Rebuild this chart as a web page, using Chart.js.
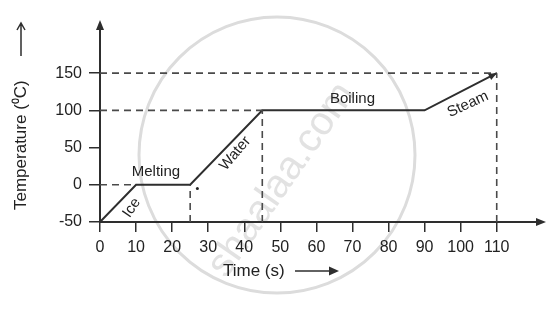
<!DOCTYPE html>
<html>
<head>
<meta charset="utf-8">
<script src="https://cdn.jsdelivr.net/npm/chart.js@4/dist/chart.umd.min.js"></script>
<style>
html,body{margin:0;padding:0;background:#fff;}
#wrap{width:555px;height:311px;position:relative;}
</style>
</head>
<body>
<div id="wrap"><canvas id="c" width="555" height="311"></canvas></div>
<script>
// Heating curve data (time in s, temperature in °C)
const timeValues = [0, 10, 25, 45, 90, 110];
const tempValues = [-50, 0, 0, 100, 100, 150];
const xTickValues = [0, 10, 20, 30, 40, 50, 60, 70, 80, 90, 100, 110];
const yTickValues = [-50, 0, 50, 100, 150];
const phaseLabels = ['Ice', 'Melting', 'Water', 'Boiling', 'Steam'];
const xTitle = 'Time (s)';
const yTitle = 'Temperature (\u2070C)';

const curve = timeValues.map((t, i) => ({x: t, y: tempValues[i]}));
const yMin = -50;
// dashed guide lines from the curve's corner points
const guideH = [1, 3, 5].map(i => [{x: 0, y: tempValues[i]}, {x: timeValues[i], y: tempValues[i]}]);
const guideV = [2, 3, 5].map(i => [{x: timeValues[i], y: yMin}, {x: timeValues[i], y: tempValues[i]}]);

const ink = '#2e2e2e';
const FONT = '"Liberation Sans", Arial, sans-serif';
const dashStyle = {borderColor: '#4a4a4a', borderWidth: 1.6, borderDash: [7, 5], pointRadius: 0, fill: false, showLine: true};

const datasets = [
  ...guideH.map(d => Object.assign({data: d}, dashStyle)),
  ...guideV.map(d => Object.assign({data: d}, dashStyle)),
  {data: curve, borderColor: ink, borderWidth: 2, pointRadius: 0, fill: false, showLine: true, tension: 0}
];

function arrow(ctx, x, y, ang, len, w) {
  ctx.save();
  ctx.translate(x, y);
  ctx.rotate(ang);
  ctx.beginPath();
  ctx.moveTo(0, 0);
  ctx.lineTo(-len, -w);
  ctx.lineTo(-len, w);
  ctx.closePath();
  ctx.fillStyle = ink;
  ctx.fill();
  ctx.restore();
}

const watermark = {
  id: 'watermark',
  beforeDraw(chart) {
    const ctx = chart.ctx;
    ctx.save();
    ctx.strokeStyle = '#dcdcdc';
    ctx.lineWidth = 3;
    ctx.beginPath();
    ctx.arc(277, 155, 138, 0, Math.PI * 2);
    ctx.stroke();
    ctx.translate(282, 180);
    ctx.rotate(-55 * Math.PI / 180);
    ctx.fillStyle = '#e2e2e2';
    ctx.font = '40px ' + FONT;
    ctx.textAlign = 'center';
    ctx.textBaseline = 'middle';
    ctx.fillText('shaalaa.com', 0, 0);
    ctx.restore();
  }
};

const decor = {
  id: 'decor',
  afterDraw(chart) {
    const ctx = chart.ctx;
    const xs = chart.scales.x, ys = chart.scales.y;
    const a = chart.chartArea;
    const px = v => xs.getPixelForValue(v), py = v => ys.getPixelForValue(v);
    ctx.save();
    // axis arrows
    arrow(ctx, a.right + 6, a.bottom, 0, 10, 4);
    arrow(ctx, a.left, a.top - 4, -Math.PI / 2, 10, 4);
    // arrow at end of curve
    const n = timeValues.length - 1;
    const x1 = px(timeValues[n - 1]), y1 = py(tempValues[n - 1]);
    const x2 = px(timeValues[n]), y2 = py(tempValues[n]);
    arrow(ctx, x2, y2, Math.atan2(y2 - y1, x2 - x1), 8, 3.5);

    // phase labels
    ctx.fillStyle = '#222';
    ctx.font = '15px ' + FONT;
    ctx.textAlign = 'center';
    ctx.textBaseline = 'middle';
    const lab = [
      [phaseLabels[0], 8.8, -31, -55],
      [phaseLabels[1], 15.5, 17, 0],
      [phaseLabels[2], 37.5, 42, -50],
      [phaseLabels[3], 70, 115, 0],
      [phaseLabels[4], 102, 108, -25]
    ];
    lab.forEach(([t, x, y, r]) => {
      ctx.save();
      ctx.translate(px(x), py(y));
      ctx.rotate(r * Math.PI / 180);
      ctx.fillText(t, 0, 0);
      ctx.restore();
    });
    // small dot
    ctx.beginPath();
    ctx.arc(px(27), py(-5), 1.5, 0, Math.PI * 2);
    ctx.fill();

    // x axis title with long arrow
    ctx.font = '17px ' + FONT;
    ctx.textAlign = 'left';
    ctx.fillText(xTitle, 223, 271);
    ctx.strokeStyle = ink;
    ctx.lineWidth = 1.5;
    ctx.beginPath();
    ctx.moveTo(295, 271);
    ctx.lineTo(330, 271);
    ctx.stroke();
    arrow(ctx, 339, 271, 0, 10, 4.5);

    // y axis title with long arrow
    ctx.save();
    ctx.translate(21, 210);
    ctx.rotate(-Math.PI / 2);
    ctx.textAlign = 'left';
    ctx.fillText(yTitle, 0, 0);
    ctx.restore();
    ctx.beginPath();
    ctx.moveTo(21, 56);
    ctx.lineTo(21, 23);
    ctx.moveTo(17, 30);
    ctx.lineTo(21, 23);
    ctx.lineTo(25, 30);
    ctx.stroke();
    ctx.restore();
  }
};

new Chart(document.getElementById('c'), {
  type: 'scatter',
  data: {datasets},
  plugins: [watermark, decor],
  options: {
    responsive: false,
    animation: false,
    events: [],
    layout: {padding: {left: 0, right: 15, top: 24, bottom: 0}},
    plugins: {legend: {display: false}, tooltip: {enabled: false}},
    scales: {
      x: {
        type: 'linear', min: 0, max: 122,
        afterBuildTicks: s => { s.ticks = xTickValues.map(v => ({value: v})); },
        afterFit: s => { s.height = 89; },
        border: {display: true, color: ink, width: 2},
        grid: {display: true, drawOnChartArea: false, drawTicks: true, tickLength: 10, color: ink, lineWidth: 1.5},
        ticks: {color: '#222', padding: 6, maxRotation: 0, autoSkip: false,
                font: {family: FONT, size: 16}}
      },
      y: {
        type: 'linear', min: -50, max: 216,
        afterBuildTicks: s => { s.ticks = yTickValues.map(v => ({value: v})); },
        afterFit: s => { s.width = 100; },
        border: {display: true, color: ink, width: 2},
        grid: {display: true, drawOnChartArea: false, drawTicks: true, tickLength: 11, color: ink, lineWidth: 1.5},
        ticks: {color: '#222', padding: 7, autoSkip: false,
                font: {family: FONT, size: 16}}
      }
    }
  }
});
</script>
</body>
</html>
